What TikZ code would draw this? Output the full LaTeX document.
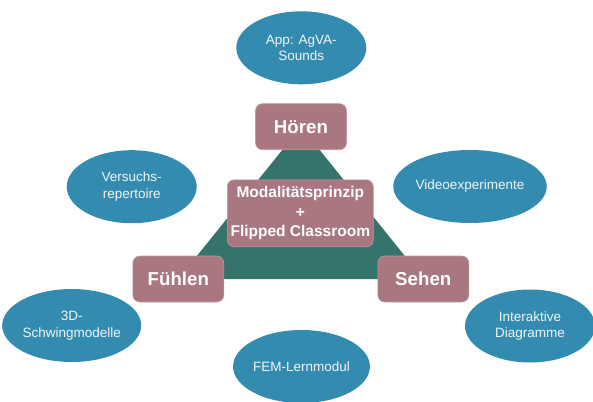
\documentclass[tikz,border=0pt]{standalone}
\usepackage{fontspec}
\setmainfont{Liberation Sans}
\usetikzlibrary{shapes.geometric,backgrounds}
\definecolor{bubble}{HTML}{338CAF}
\definecolor{mauve}{HTML}{A9777F}
\definecolor{mauveedge}{HTML}{C49AA1}
\definecolor{tri}{HTML}{35746B}
\definecolor{softwhite}{HTML}{F2F4F6}
\tikzset{
  bubblenode/.style={ellipse, fill=bubble, inner sep=0pt,
    minimum width=130pt, minimum height=73pt, align=center,
    text=softwhite, font=\fontsize{13.5}{16.7}\selectfont},
  sensebox/.style={rectangle, rounded corners=7pt, fill=mauve,
    draw=mauveedge, line width=0.6pt, inner sep=0pt,
    minimum width=91pt, minimum height=46pt, text=white,
    font=\fontsize{18.7}{22}\selectfont\bfseries},
  corebox/.style={sensebox, minimum width=146pt, minimum height=67pt,
    align=center, font=\fontsize{15.5}{19.5}\selectfont\bfseries},
}
\begin{document}
\begin{tikzpicture}[x=1pt, y=-1pt]
  \useasboundingbox (0,0) rectangle (593,401);

  % the three senses
  \node[sensebox] (hoeren) at (301,126.7) {Hören};
  \node[sensebox] (fuehlen) at (178.3,279) {Fühlen};
  \node[sensebox] (sehen) at (423.3,279) {Sehen};

  % triangle joining the senses, behind the boxes
  \begin{scope}[on background layer]
    \fill[tri] (hoeren.center) -- (fuehlen.center) -- (sehen.center) -- cycle;
  \end{scope}

  % central concept
  \node[corebox] (core) at (300.3,213.3) {Modalitätsprinzip\\+\\Flipped Classroom};

  % teaching materials
  \node[bubblenode] (app) at (301.3,47.8) {App: AgVA-\\Sounds};
  \node[bubblenode] (versuch) at (131.7,186.7) {Versuchs-\\repertoire};
  \node[bubblenode] (video) at (470,186.5) {Videoexperimente};
  \node[bubblenode] (schwing) at (71.7,325.5) {3D-\\Schwingmodelle};
  \node[bubblenode] (diagramm) at (530,326) {Interaktive\\Diagramme};
  \node[bubblenode] (fem) at (301.5,366.5) {FEM-Lernmodul};
\end{tikzpicture}
\end{document}
